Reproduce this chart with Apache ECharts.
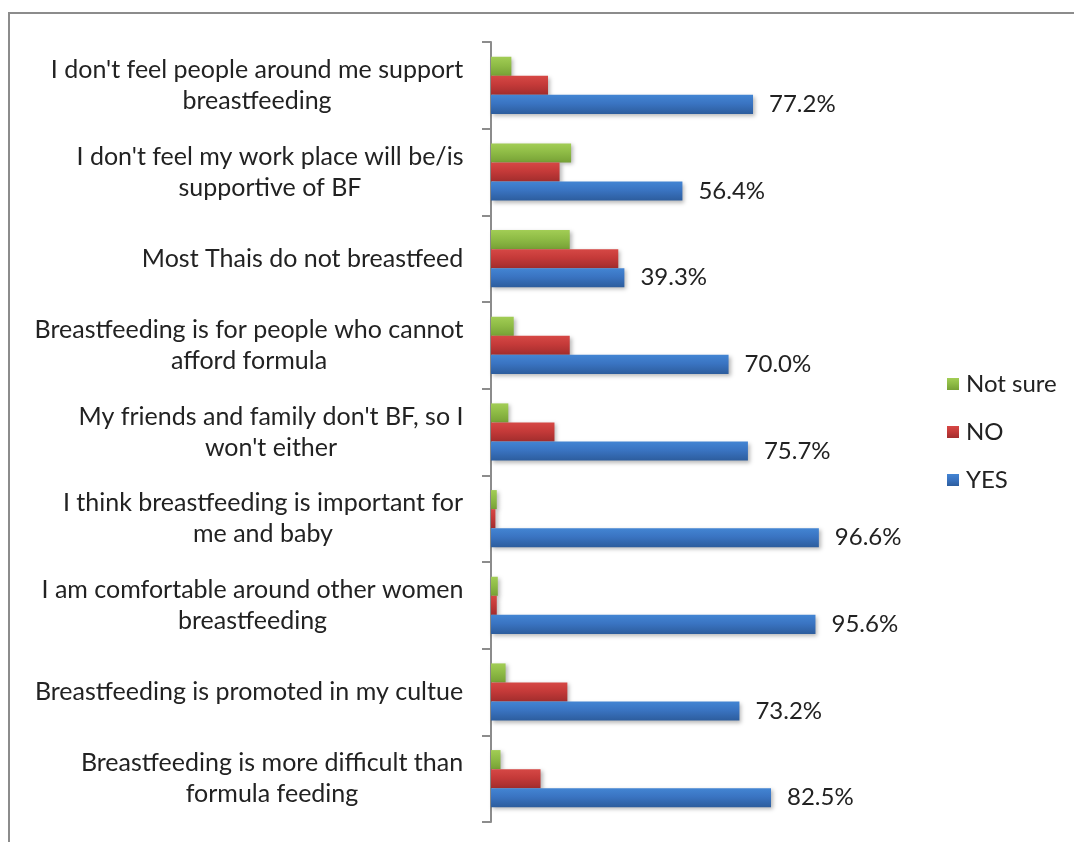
<!DOCTYPE html>
<html>
<head>
<meta charset="utf-8">
<script src="https://cdn.jsdelivr.net/npm/echarts@6/dist/echarts.min.js"></script>
<style>
  html, body { margin: 0; padding: 0; background: #fff; }
  #chart { width: 1074px; height: 842px; }
</style>
</head>
<body>
<div id="chart"></div>
<script>
// Survey statements, listed top to bottom
const categories = [
  "I don't feel people around me support\nbreastfeeding",
  "I don't feel my work place will be/is\nsupportive of BF",
  "Most Thais do not breastfeed",
  "Breastfeeding is for people who cannot\nafford formula",
  "My friends and family don't BF, so I\nwon't either",
  "I think breastfeeding is important for\nme and baby",
  "I am comfortable around other women\nbreastfeeding",
  "Breastfeeding is promoted in my cultue",
  "Breastfeeding is more difficult than\nformula feeding"
];

const seriesNames = ['Not sure', 'NO', 'YES'];

// Percent of respondents per answer
const notSureValues = [6.0, 23.6, 23.2, 6.7, 5.1, 1.7, 2.0, 4.3, 2.8];
const noValues      = [16.8, 20.2, 37.5, 23.2, 18.7, 1.3, 1.7, 22.5, 14.6];
const yesValues     = [77.2, 56.4, 39.3, 70.0, 75.7, 96.6, 95.6, 73.2, 82.5];

const FONT = 'Lato, "Open Sans", sans-serif';
const FONT_SIZE = 24;
const CAT_FONT_SIZE = 25;
const TEXT_COLOR = '#222222';

// Measure each label's widest line so its lines can be centred inside a right-aligned block
const ctx = document.createElement('canvas').getContext('2d');
ctx.font = CAT_FONT_SIZE + 'px ' + FONT;
const rich = {};
categories.forEach((c, i) => {
  const w = Math.max(...c.split('\n').map(l => ctx.measureText(l).width));
  rich['r' + i] = {
    width: Math.ceil(w) + 1,
    align: 'center',
    fontFamily: FONT,
    fontSize: CAT_FONT_SIZE,
    color: TEXT_COLOR,
    lineHeight: 31
  };
});

function grad(top, mid, bottom) {
  return new echarts.graphic.LinearGradient(0, 0, 0, 1, [
    { offset: 0, color: top },
    { offset: 0.45, color: mid },
    { offset: 1, color: bottom }
  ]);
}

const barShadow = {
  shadowColor: 'rgba(0,0,0,0.28)',
  shadowBlur: 4,
  shadowOffsetX: 2,
  shadowOffsetY: 2
};

const chart = echarts.init(document.getElementById('chart'), null, { renderer: 'canvas' });

chart.setOption({
  backgroundColor: '#ffffff',
  animation: false,
  graphic: [{
    type: 'rect',
    shape: { x: 9, y: 13, width: 1300, height: 1000 },
    style: { fill: 'none', stroke: '#8c8c8c', lineWidth: 2 },
    silent: true
  }],
  legend: {
    orient: 'vertical',
    left: 942,
    top: 367,
    itemWidth: 12,
    itemHeight: 12,
    itemGap: 24,
    icon: 'rect',
    data: seriesNames,
    textStyle: { fontFamily: FONT, fontSize: FONT_SIZE, color: TEXT_COLOR, padding: [0, 0, 0, 2] }
  },
  grid: { left: 491, top: 42, bottom: 20, width: 339.4, containLabel: false },
  xAxis: {
    type: 'value',
    min: 0,
    max: 100,
    show: false
  },
  yAxis: {
    type: 'category',
    inverse: true,
    data: categories,
    axisLine: { show: true, lineStyle: { color: '#8c8c8c', width: 2 } },
    axisTick: { show: true, inside: false, length: 9, lineStyle: { color: '#8c8c8c', width: 2 } },
    axisLabel: {
      margin: 27,
      align: 'right',
      formatter: (value, index) => value.split('\n').map(l => '{r' + index + '|' + l + '}').join('\n'),
      rich: rich
    },
    splitLine: { show: false }
  },
  series: [
    {
      name: 'Not sure',
      type: 'bar',
      data: notSureValues,
      barGap: '0%',
      barCategoryGap: '34%',
      itemStyle: Object.assign({ color: grad('#a2cd55', '#8fbc46', '#77a136') }, barShadow)
    },
    {
      name: 'NO',
      type: 'bar',
      data: noValues,
      barGap: '0%',
      barCategoryGap: '34%',
      itemStyle: Object.assign({ color: grad('#d64845', '#c53a39', '#a22d2d') }, barShadow)
    },
    {
      name: 'YES',
      type: 'bar',
      data: yesValues,
      barGap: '0%',
      barCategoryGap: '34%',
      itemStyle: Object.assign({ color: grad('#4385d3', '#3a74c2', '#2d5d9d') }, barShadow),
      label: {
        show: true,
        position: 'right',
        distance: 16,
        formatter: p => p.value.toFixed(1) + '%',
        fontFamily: FONT,
        fontSize: FONT_SIZE,
        color: TEXT_COLOR
      }
    }
  ]
});
</script>
</body>
</html>
